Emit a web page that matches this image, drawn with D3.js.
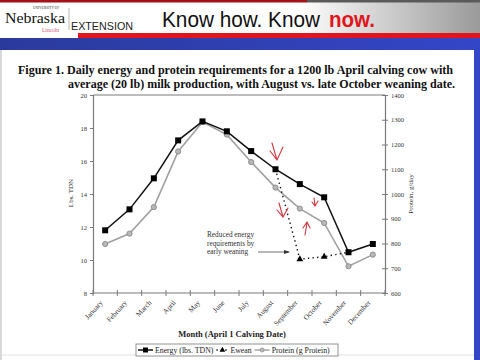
<!DOCTYPE html>
<html><head><meta charset="utf-8">
<script src="https://cdn.jsdelivr.net/npm/d3@7"></script>
<style>body{margin:0;background:#fff}svg{display:block}</style>
</head><body><svg id="c" width="480" height="360"></svg>
<script>
const months = ["January","February","March","April","May","June","July","August","September","October","November","December"];
const energy = [11.8, 13.07, 14.95, 17.25, 18.4, 17.8, 16.6, 15.5, 14.6, 13.8, 10.47, 10.97];
const protein = [798, 840, 947, 1172, 1291, 1240, 1129, 1026, 941, 883, 708, 755];
const eweanMonths = ["August","September","October","November"];
const ewean = [15.5, 10.05, 10.2, 10.47];
const leftTicks = [8,10,12,14,16,18,20];
const rightTicks = [600,700,800,900,1000,1100,1200,1300,1400];

const svg = d3.select("#c");
const serif = "'Liberation Serif','Times New Roman',serif";
const sans = "'Liberation Sans',Arial,sans-serif";

// ---- slide header ----
const defs = svg.append("defs");
const g1 = defs.append("linearGradient").attr("id","hdr").attr("x1","0").attr("x2","1");
g1.append("stop").attr("offset","0.62").attr("stop-color","#ffffff");
g1.append("stop").attr("offset","1").attr("stop-color","#9a9a9a");
const g2 = defs.append("linearGradient").attr("id","blu").attr("x1","0").attr("x2","1");
g2.append("stop").attr("offset","0").attr("stop-color","#2a3a9c");
g2.append("stop").attr("offset","1").attr("stop-color","#3446c8");
svg.append("rect").attr("x",0).attr("y",0).attr("width",480).attr("height",37).attr("fill","url(#hdr)");
svg.append("rect").attr("x",0).attr("y",0).attr("width",307).attr("height",2.5).attr("fill","#a31218");
svg.append("rect").attr("x",307).attr("y",0).attr("width",173).attr("height",2.5).attr("fill","#5a5a5a");
svg.append("rect").attr("x",78).attr("y",33).attr("width",402).attr("height",5).attr("fill","#e3141c");
svg.append("rect").attr("x",0).attr("y",38).attr("width",480).attr("height",12).attr("fill","url(#blu)");
svg.append("rect").attr("x",474).attr("y",50).attr("width",6).attr("height",310).attr("fill","#3446c8");
svg.append("rect").attr("x",0).attr("y",50).attr("width",2).attr("height",310).attr("fill","#d8d8d8");
svg.append("line").attr("x1",2).attr("x2",474).attr("y1",355).attr("y2",355).attr("stroke","#e2e2e2");

// logo
svg.append("text").attr("x",33).attr("y",8.5).attr("font-family",serif).attr("font-size",3.5).attr("fill","#333").text("UNIVERSITY OF");
svg.append("text").attr("x",5).attr("y",23).attr("font-family",serif).attr("font-size",15).attr("textLength",60).attr("lengthAdjust","spacingAndGlyphs").attr("fill","#111").text("Nebraska");
svg.append("text").attr("x",42).attr("y",32).attr("font-family",serif).attr("font-size",5.5).attr("fill","#d0507a").text("Lincoln");
svg.append("line").attr("x1",69).attr("x2",69).attr("y1",8).attr("y2",30).attr("stroke","#888").attr("stroke-width",0.6);
svg.append("text").attr("x",71).attr("y",30).attr("font-family",sans).attr("font-size",11.5).attr("textLength",62).attr("lengthAdjust","spacingAndGlyphs").attr("fill","#222").text("EXTENSION");
svg.append("text").attr("x",162).attr("y",27).attr("font-family",sans).attr("font-size",22).attr("textLength",158).attr("lengthAdjust","spacingAndGlyphs").attr("fill","#111").text("Know how. Know");
svg.append("text").attr("x",329).attr("y",27).attr("font-family",sans).attr("font-size",22).attr("font-weight","bold").attr("textLength",46).attr("lengthAdjust","spacingAndGlyphs").attr("fill","#e3141c").text("now.");

// ---- title ----
svg.append("text").attr("x",18).attr("y",74).attr("font-family",serif).attr("font-weight","bold").attr("font-size",12.5)
  .attr("textLength",435).attr("lengthAdjust","spacingAndGlyphs").attr("fill","#111")
  .text("Figure 1.  Daily energy and protein requirements for a 1200 lb April calving cow with");
svg.append("text").attr("x",68).attr("y",88).attr("font-family",serif).attr("font-weight","bold").attr("font-size",12.5)
  .attr("textLength",387).attr("lengthAdjust","spacingAndGlyphs").attr("fill","#111")
  .text("average (20 lb) milk production, with August vs. late October weaning date.");

// ---- chart ----
const x0 = 93, x1 = 385, yTop = 95, yBot = 293;
const x = d3.scaleBand().domain(months).range([x0,x1]).padding(0);
const cx = m => x(m) + x.bandwidth()/2;
const yL = d3.scaleLinear().domain([8,20]).range([yBot,yTop]);
const yR = d3.scaleLinear().domain([600,1400]).range([yBot,yTop]);
const axCol = "#7a7a7a";

svg.append("line").attr("x1",x0).attr("x2",x1).attr("y1",yTop).attr("y2",yTop).attr("stroke",axCol).attr("stroke-width",1.2);

const la = svg.append("g").attr("transform",`translate(${x0},0)`)
  .call(d3.axisLeft(yL).tickValues(leftTicks).tickSize(3).tickPadding(3).tickFormat(d3.format("d")));
la.select(".domain").attr("stroke",axCol).attr("stroke-width",1.2);
la.selectAll(".tick line").attr("stroke",axCol);
la.selectAll(".tick text").attr("font-family",serif).attr("font-size",6.5).attr("fill","#333");

const ra = svg.append("g").attr("transform",`translate(${x1},0)`)
  .call(d3.axisRight(yR).tickValues(rightTicks).tickSize(3).tickPadding(3).tickFormat(d3.format("d")));
ra.select(".domain").attr("stroke",axCol).attr("stroke-width",1.2);
ra.selectAll(".tick line").attr("stroke",axCol).attr("x1",-3);
ra.selectAll(".tick text").attr("font-family",serif).attr("font-size",6.5).attr("fill","#333");

const ticksX = months.map(m => x(m)).concat([x1]);
svg.append("line").attr("x1",x0).attr("x2",x1).attr("y1",yBot).attr("y2",yBot).attr("stroke",axCol).attr("stroke-width",1.2);
svg.append("g").selectAll("line").data(ticksX).join("line")
  .attr("x1",d=>d).attr("x2",d=>d).attr("y1",yBot-3).attr("y2",yBot+3).attr("stroke",axCol);
svg.append("g").selectAll("text").data(months).join("text")
  .attr("transform",m=>`translate(${cx(m)-2},${yBot+10}) rotate(-48)`)
  .attr("text-anchor","end").attr("font-family",serif).attr("font-size",7.3).attr("fill","#333").text(m=>m);

svg.append("text").attr("transform",`translate(73,193) rotate(-90)`).attr("text-anchor","middle")
  .attr("font-family",serif).attr("font-size",7).attr("fill","#333").text("Lbs. TDN");
svg.append("text").attr("transform",`translate(413,194) rotate(-90)`).attr("text-anchor","middle")
  .attr("font-family",serif).attr("font-size",7).attr("fill","#333").text("Protein, g/day");
svg.append("text").attr("x",232).attr("y",337).attr("text-anchor","middle").attr("font-family",serif)
  .attr("font-weight","bold").attr("font-size",8.5).attr("fill","#222").text("Month (April 1 Calving Date)");

const lineP = d3.line().x((d,i)=>cx(months[i])).y(d=>yR(d));
svg.append("path").datum(protein).attr("d",lineP).attr("fill","none").attr("stroke","#a0a0a0").attr("stroke-width",1.6);
svg.append("g").selectAll("circle").data(protein).join("circle")
  .attr("cx",(d,i)=>cx(months[i])).attr("cy",d=>yR(d)).attr("r",2.6)
  .attr("fill","#b8b8b8").attr("stroke","#909090").attr("stroke-width",1);

const lineE = d3.line().x((d,i)=>cx(months[i])).y(d=>yL(d));
svg.append("path").datum(energy).attr("d",lineE).attr("fill","none").attr("stroke","#111").attr("stroke-width",1.5);
svg.append("g").selectAll("rect").data(energy).join("rect")
  .attr("x",(d,i)=>cx(months[i])-3).attr("y",d=>yL(d)-3).attr("width",6).attr("height",6).attr("fill","#000");

const lineW = d3.line().x((d,i)=>cx(eweanMonths[i])).y(d=>yL(d));
svg.append("path").datum(ewean).attr("d",lineW).attr("fill","none").attr("stroke","#111")
  .attr("stroke-width",1.4).attr("stroke-dasharray","1.4,3.2");
const tri = d3.symbol().type(d3.symbolTriangle).size(20);
svg.append("g").selectAll("path").data(ewean.slice(1,3)).join("path")
  .attr("d",tri).attr("transform",(d,i)=>`translate(${cx(eweanMonths[i+1])},${yL(d)})`).attr("fill","#000");

const ann = ["Reduced energy","requirements by","early weaning"];
svg.append("g").selectAll("text").data(ann).join("text")
  .attr("x",207).attr("y",(d,i)=>237+i*8.5).attr("font-family",serif)
  .attr("font-size",7.3).attr("fill","#333").text(d=>d);
svg.append("line").attr("x1",258).attr("x2",289).attr("y1",252).attr("y2",252).attr("stroke","#333").attr("stroke-width",0.7);
svg.append("path").attr("d","M290,252 L284,250 L284,254 Z").attr("fill","#333");

const red = "#d4343c";
["M272,143 L277,160 M270,151 L277,160 L283,147",
 "M279,203 L283,217 M277,210 L283,217 L288,208",
 "M314,198 L315,205 M312,202 L315,206 L318,201",
 "M305,235 L307,223 M303,228 L307,222 L310,228"].forEach(p=>{
  svg.append("path").attr("d",p).attr("fill","none").attr("stroke",red).attr("stroke-width",1.1).attr("stroke-linecap","round");
});

// legend (sequential layout)
const lg = svg.append("g");
lg.append("rect").attr("x",136).attr("y",344).attr("width",202).attr("height",12).attr("fill","#fff").attr("stroke","#777").attr("stroke-width",0.8);
const ly = 350;
const legendItems = ["Energy (lbs. TDN)","Ewean","Protein (g Protein)"];
let cur = 138;
legendItems.forEach((label,i)=>{
  const sw = i===1 ? 12 : 15;
  if (i===0) {
    lg.append("line").attr("x1",cur).attr("x2",cur+sw).attr("y1",ly).attr("y2",ly).attr("stroke","#111").attr("stroke-width",1.5);
    lg.append("rect").attr("x",cur+sw/2-2.5).attr("y",ly-2.5).attr("width",5).attr("height",5).attr("fill","#000");
  } else if (i===1) {
    lg.append("line").attr("x1",cur).attr("x2",cur+sw).attr("y1",ly).attr("y2",ly).attr("stroke","#111").attr("stroke-width",1.4).attr("stroke-dasharray","1.4,3");
    lg.append("path").attr("d",d3.symbol().type(d3.symbolTriangle).size(14)).attr("transform",`translate(${cur+sw/2},${ly})`).attr("fill","#000");
  } else {
    lg.append("line").attr("x1",cur).attr("x2",cur+sw).attr("y1",ly).attr("y2",ly).attr("stroke","#a0a0a0").attr("stroke-width",1.4);
    lg.append("circle").attr("cx",cur+sw/2).attr("cy",ly).attr("r",2).attr("fill","#b8b8b8").attr("stroke","#909090").attr("stroke-width",0.8);
  }
  cur += sw + 2;
  const t = lg.append("text").attr("x",cur).attr("y",ly+2.7).attr("font-family",serif).attr("font-size",7.8).attr("fill","#222").text(label);
  cur += t.node().getComputedTextLength() + 3;
});
</script></body></html>
